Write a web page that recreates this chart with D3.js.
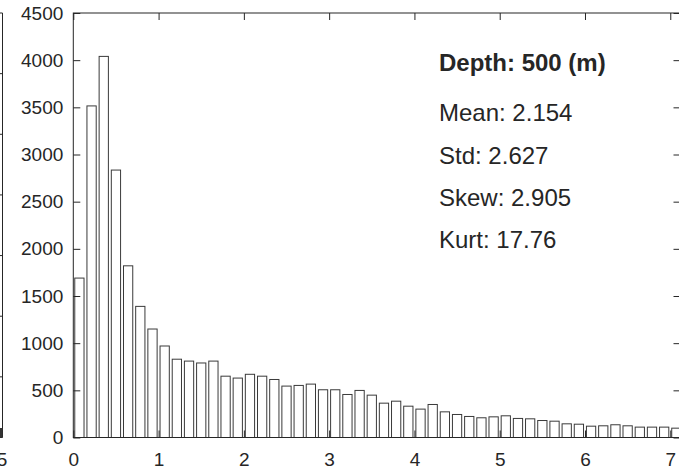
<!DOCTYPE html>
<html>
<head>
<meta charset="utf-8">
<script src="https://cdn.jsdelivr.net/npm/d3@7"></script>
<style>
  html, body { margin: 0; padding: 0; background: #fff; }
  svg { display: block; }
  text { font-family: "Liberation Sans", Arial, Helvetica, sans-serif; fill: #262626; }
</style>
</head>
<body>
<svg id="chart" width="679" height="471"></svg>
<script>
// Histogram counts, one per bin of width 1/7 starting at 0
const counts = [
  1690, 3515, 4040, 2835, 1820, 1390, 1150, 970, 830, 810,
  790, 810, 650, 630, 670, 650, 615, 545, 552, 566,
  506, 506, 456, 499, 449, 364, 385, 332, 301, 350,
  272, 244, 223, 209, 219, 230, 202, 198, 180, 173,
  145, 141, 120, 124, 135, 124, 110, 110, 110, 99
];
const binWidth = 1 / 7;
const xTicks = [0, 1, 2, 3, 4, 5, 6, 7];
const yTicks = [0, 500, 1000, 1500, 2000, 2500, 3000, 3500, 4000, 4500];
const title = "Depth: 500 (m)";
const stats = ["Mean: 2.154", "Std: 2.627", "Skew: 2.905", "Kurt: 17.76"];

const svg = d3.select("#chart");
const plotLeft = 73.3, plotRight = 680.5, plotTop = 13, plotBottom = 437.5;
const tickLen = 7;

const x = d3.scaleLinear().domain([0, 7.12]).range([plotLeft, plotRight]);
const y = d3.scaleLinear().domain([0, 4500]).range([plotBottom, plotTop]);

// Edge of the neighbouring panel on the left
const nb = svg.append("g").attr("stroke", "#262626").attr("fill", "none");
nb.append("path").attr("d", `M0,${plotTop}H2.5V${plotBottom}H0`);
d3.range(1, 7).forEach(k => {
  const yy = plotTop + k * (plotBottom - plotTop) / 7;
  nb.append("line").attr("x1", 0).attr("x2", 2.5).attr("y1", yy).attr("y2", yy);
});
svg.append("rect").attr("x", 0).attr("y", 428).attr("width", 2.5).attr("height", plotBottom - 428)
  .attr("fill", "#333");
svg.append("text").attr("x", 2).attr("y", 466).attr("text-anchor", "middle")
  .attr("font-size", 19).text("5");

// Bars
const barFrac = 0.76;
svg.append("g").selectAll("rect").data(counts).join("rect")
  .attr("x", (d, i) => x((i + 0.5) * binWidth - barFrac * binWidth / 2))
  .attr("width", x(barFrac * binWidth) - x(0))
  .attr("y", d => y(d))
  .attr("height", d => y(0) - y(d))
  .attr("fill", "#fff")
  .attr("stroke", "#3a3a3a")
  .attr("stroke-width", 1);

// Axes with inward ticks on all four sides
function styleAxis(g) {
  g.select(".domain").remove();
  g.selectAll(".tick line").attr("stroke", "#262626");
  g.selectAll(".tick text").attr("font-size", 19).attr("fill", "#262626")
    .attr("font-family", "Liberation Sans, Arial, sans-serif");
}
svg.append("g").attr("transform", `translate(0,${plotBottom})`)
  .call(d3.axisBottom(x).tickValues(xTicks).tickFormat(d3.format("d"))
    .tickSizeInner(-tickLen).tickSizeOuter(0).tickPadding(15))
  .call(styleAxis);
svg.append("g").attr("transform", `translate(${plotLeft},0)`)
  .call(d3.axisLeft(y).tickValues(yTicks).tickFormat(d3.format("d"))
    .tickSizeInner(-tickLen).tickSizeOuter(0).tickPadding(10))
  .call(styleAxis);
svg.append("g").attr("transform", `translate(0,${plotTop})`)
  .call(d3.axisTop(x).tickValues(xTicks).tickFormat("").tickSizeInner(-tickLen).tickSizeOuter(0))
  .call(styleAxis);
svg.append("g").attr("transform", `translate(${plotRight},0)`)
  .call(d3.axisRight(y).tickValues(yTicks).tickFormat("").tickSizeInner(-tickLen).tickSizeOuter(0))
  .call(styleAxis);

// Plot frame
svg.append("rect").attr("x", plotLeft).attr("y", plotTop)
  .attr("width", plotRight - plotLeft).attr("height", plotBottom - plotTop)
  .attr("fill", "none").attr("stroke", "#262626").attr("stroke-width", 1);

// Annotation block
const ann = svg.append("g").attr("font-size", 24);
ann.append("text").attr("x", 439).attr("y", 70.5).attr("font-weight", "bold")
  .attr("fill", "#111").text(title);
const statY = [120.5, 163.5, 205.5, 248];
ann.selectAll("text.stat").data(stats).join("text").attr("class", "stat")
  .attr("x", 439).attr("y", (d, i) => statY[i]).attr("fill", "#222").text(d => d);
</script>
</body>
</html>
